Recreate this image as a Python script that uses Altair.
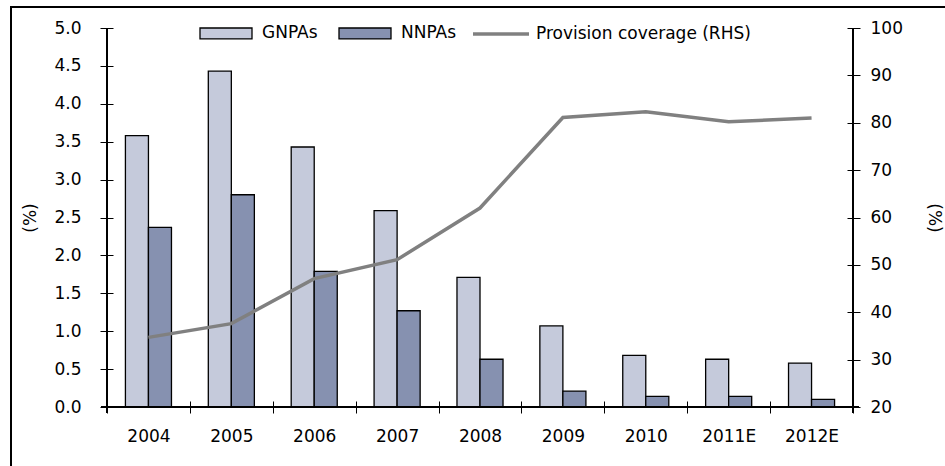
import altair as alt
import pandas as pd

# Asset-quality series by year
years = ["2004", "2005", "2006", "2007", "2008", "2009", "2010", "2011E", "2012E"]
gnpas = [3.58, 4.43, 3.43, 2.59, 1.71, 1.07, 0.68, 0.63, 0.58]
nnpas = [2.37, 2.80, 1.79, 1.27, 0.63, 0.21, 0.14, 0.14, 0.10]
coverage = [34.7, 37.6, 47.1, 51.1, 62.0, 81.1, 82.3, 80.2, 81.0]

bar_series = ["GNPAs", "NNPAs"]
line_series = "Provision coverage (RHS)"

W, H = 746, 379
FONT = "DejaVu Sans"
FS = 17

bars_df = pd.DataFrame(
    [{"year": y, "series": "GNPAs", "value": g} for y, g in zip(years, gnpas)]
    + [{"year": y, "series": "NNPAs", "value": n} for y, n in zip(years, nnpas)]
)
line_df = pd.DataFrame({"year": years, "coverage": coverage, "series": line_series})

x_enc = alt.X(
    "year:N",
    sort=years,
    scale=alt.Scale(paddingInner=0, paddingOuter=0),
    axis=alt.Axis(
        title=None, tickBand="extent", domain=False, offset=-6, tickSize=12,
        tickColor="black", labelColor="black", labelFont=FONT, labelFontSize=FS,
        labelPadding=15, labelAngle=0,
    ),
)

bars = alt.Chart(bars_df).mark_bar(stroke="black", strokeWidth=1.3).encode(
    x=x_enc,
    xOffset=alt.XOffset("series:N", sort=bar_series,
                        scale=alt.Scale(paddingInner=0, paddingOuter=0.8)),
    y=alt.Y(
        "value:Q",
        scale=alt.Scale(domain=[0, 5], nice=False),
        axis=alt.Axis(
            title="(%)", values=[0, 0.5, 1, 1.5, 2, 2.5, 3, 3.5, 4, 4.5, 5], format=".1f",
            orient="left", grid=False, domain=False, offset=-6, tickSize=13,
            tickColor="black", labelColor="black", labelFont=FONT, labelFontSize=FS,
            labelPadding=19, titleFont=FONT, titleFontSize=FS, titleFontWeight="normal",
            titleColor="black", titlePadding=14,
        ),
    ),
    fill=alt.Fill(
        "series:N", sort=bar_series,
        scale=alt.Scale(domain=bar_series, range=["#C5CADB", "#8691B0"]),
        legend=alt.Legend(
            title=None, orient="none", direction="horizontal", legendX=92, legendY=-22,
            symbolType="M-1,-0.21H1V0.21H-1Z", symbolSize=2704,
            symbolStrokeColor="black", symbolStrokeWidth=1.3, symbolOpacity=1,
            labelFont=FONT, labelFontSize=FS, labelColor="black", labelOffset=9,
            labelLimit=400, columnPadding=18,
        ),
    ),
)

line = alt.Chart(line_df).mark_line(strokeWidth=3.5).encode(
    x=alt.X("year:N", sort=years),
    y=alt.Y(
        "coverage:Q",
        scale=alt.Scale(domain=[20, 100], nice=False),
        axis=alt.Axis(
            title="(%)", values=[20, 30, 40, 50, 60, 70, 80, 90, 100],
            orient="right", grid=False, domain=False, offset=-6, tickSize=13,
            tickColor="black", labelColor="black", labelFont=FONT, labelFontSize=FS,
            labelPadding=10, titleFont=FONT, titleFontSize=FS, titleFontWeight="normal",
            titleColor="black", titlePadding=22,
        ),
    ),
    stroke=alt.Stroke(
        "series:N",
        scale=alt.Scale(domain=[line_series], range=["#808080"]),
        legend=alt.Legend(
            title=None, orient="none", direction="horizontal", legendX=364, legendY=-24,
            symbolType="stroke", symbolSize=3136, symbolStrokeWidth=3.5,
            labelFont=FONT, labelFontSize=FS, labelColor="black", labelOffset=5,
            labelLimit=400,
        ),
    ),
)

# Axis lines drawn separately so the ticks can cross them
axis_lines = [
    alt.Chart(line_df).mark_rule(color="black", strokeWidth=1).encode(
        x=alt.value(0), y=alt.value(0), y2=alt.value(H + 6)),
    alt.Chart(line_df).mark_rule(color="black", strokeWidth=1).encode(
        x=alt.value(W), y=alt.value(0), y2=alt.value(H + 6)),
    alt.Chart(line_df).mark_rule(color="black", strokeWidth=1).encode(
        x=alt.value(-6), x2=alt.value(W + 6), y=alt.value(H)),
]

# Outer frame around the figure
frame = alt.Chart(line_df).mark_rect(filled=False, stroke="black", strokeWidth=2).encode(
    x=alt.value(-96), x2=alt.value(W + 200), y=alt.value(-21), y2=alt.value(H + 200)
)

chart = (
    alt.layer(bars, line, *axis_lines, frame)
    .resolve_scale(y="independent", fill="independent", stroke="independent")
    .properties(
        width=W, height=H,
        autosize=alt.AutoSizeParams(type="none"),
        padding={"left": 107, "top": 28, "right": 92, "bottom": 59},
        background="white",
    )
    .configure_view(stroke=None)
)

chart.save("out.html", embed_options={"renderer": "svg", "actions": False})
